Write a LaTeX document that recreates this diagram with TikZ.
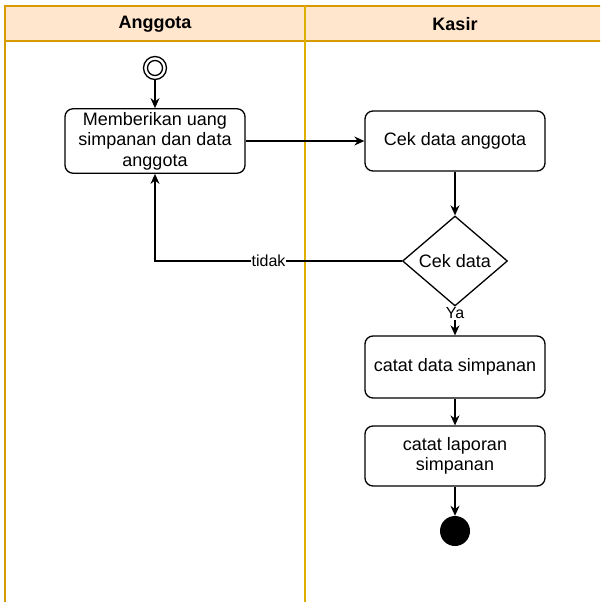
\documentclass[tikz,border=0pt]{standalone}
\usepackage{fontspec}
\setmainfont{Liberation Sans}
\usetikzlibrary{arrows.meta,shapes.geometric}

\definecolor{laneFill}{HTML}{FFE6CC}
\definecolor{laneLine}{HTML}{D79B00}

\tikzset{
  act/.style={draw,rounded corners=8pt,line width=1.3pt,minimum width=180,minimum height=60,
    align=center,font=\fontsize{18}{20.5}\selectfont},
  flow/.style={line width=1.3pt,-{Stealth[length=10pt,width=9pt]}},
  lbl/.style={fill=white,inner sep=1pt,font=\fontsize{16}{18}\selectfont}
}

\begin{document}
\begin{tikzpicture}[x=1pt,y=-1pt]
 \clip (0,0) rectangle (600,602);
 \fill[white] (0,0) rectangle (600,602);
 \def\lx{5}    % left edge of the pool
 \def\mx{305}  % lane divider
 \def\hy{41}   % bottom of the header
 % swimlane header
 \fill[laneFill] (\lx,6) rectangle (610,\hy);
 \draw[laneLine,line width=1.5pt] (610,6) -- (\lx,6) -- (\lx,602);
 \draw[laneLine,line width=1.5pt] (\lx,\hy) -- (610,\hy);
 \draw[laneLine!80!yellow,line width=1.5pt] (\mx,6) -- (\mx,602);
 \node[font=\fontsize{18}{20}\selectfont\bfseries] (hA) at (155,24) {Anggota};
 \node[font=\fontsize{18}{20}\selectfont\bfseries] (hK) at (455,24) {Kasir};
 % start and end
 \node[circle,draw,line width=1.3pt,minimum size=23,inner sep=0] (start) at (155,68) {};
 \draw[line width=1.3pt] (start) circle (7.5);
 \node[circle,fill=black,minimum size=30,inner sep=0] (stop) at (455,531) {};
 % activities
 \node[act] (beri) at (155,141) {Memberikan uang\\simpanan dan data\\anggota};
 \node[act] (cek) at (455,141) {Cek data anggota};
 \node[diamond,draw,line width=1.3pt,minimum width=105,minimum height=90,inner sep=0,
   font=\fontsize{18}{20}\selectfont] (dec) at (455,261) {Cek data};
 \node[act,minimum height=62] (catat) at (455,367) {catat data simpanan};
 \node[act] (lapor) at (455,456) {catat laporan\\simpanan};
 % connectors
 \draw[flow] (start) -- (beri);
 \draw[flow] (beri) -- (cek);
 \draw[flow] (cek) -- (dec);
 \draw[flow] (dec.west) -| node[lbl,pos=0.27] {tidak} (beri.south);
 \draw[flow] (dec.south) -- node[lbl,pos=0.23] {Ya} (catat.north);
 \draw[flow] (catat) -- (lapor);
 \draw[flow] (lapor) -- (stop);
\end{tikzpicture}
\end{document}
